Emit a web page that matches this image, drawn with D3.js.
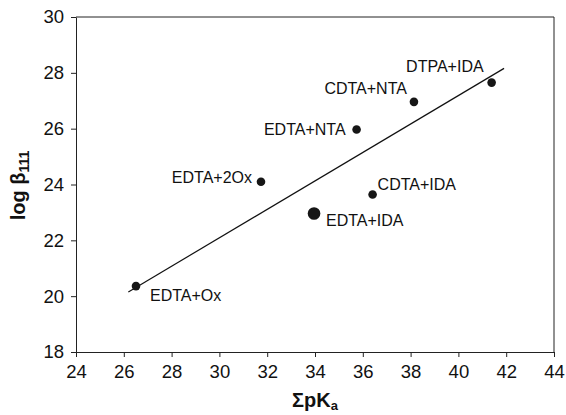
<!DOCTYPE html>
<html>
<head>
<meta charset="utf-8">
<script src="https://cdn.jsdelivr.net/npm/d3@7"></script>
<style>
  body { margin: 0; background: #fff; }
  svg { display: block; font-family: "Liberation Sans", Arial, sans-serif; }
  .axis path, .axis line { stroke: #222; }
  .axis text { font-size: 18.5px; fill: #111; }
</style>
</head>
<body>
<svg id="chart" width="566" height="415"></svg>
<script>
// Sum of pKa vs log beta111 for mixed-ligand complexes
const labels = ['EDTA+Ox', 'EDTA+2Ox', 'EDTA+NTA', 'CDTA+NTA', 'DTPA+IDA', 'CDTA+IDA', 'EDTA+IDA'];
const sumPKa = [26.51, 31.74, 35.74, 38.14, 41.39, 36.41, 33.96];
const logBeta = [20.36, 24.10, 25.97, 26.96, 27.65, 23.64, 22.96];
const highlighted = ['EDTA+IDA'];

// fitted line
const fitX = [26.19, 41.91];
const fitY = [20.15, 28.16];

const xTicks = [24, 26, 28, 30, 32, 34, 36, 38, 40, 42, 44];
const yTicks = [18, 20, 22, 24, 26, 28, 30];

const margin = { top: 17, right: 12, bottom: 63, left: 76 };
const width = 566, height = 415;

const svg = d3.select('#chart');

const x = d3.scaleLinear().domain([24, 44]).range([margin.left, width - margin.right]);
const y = d3.scaleLinear().domain([18, 30]).range([height - margin.bottom, margin.top]);

// frame (top + right, no ticks)
svg.append('path')
  .attr('d', `M${x(24)},${y(30)}H${x(44)}V${y(18)}`)
  .attr('fill', 'none')
  .attr('stroke', '#222');

svg.append('g')
  .attr('class', 'axis')
  .attr('transform', `translate(0,${y(18)})`)
  .call(d3.axisBottom(x).tickValues(xTicks).tickSize(5).tickPadding(8).tickSizeOuter(0));

svg.append('g')
  .attr('class', 'axis')
  .attr('transform', `translate(${x(24)},0)`)
  .call(d3.axisLeft(y).tickValues(yTicks).tickSize(5).tickPadding(7).tickSizeOuter(0));

svg.selectAll('.axis').attr('font-family', null).attr('font-size', null);

// regression line
svg.append('line')
  .attr('x1', x(fitX[0])).attr('y1', y(fitY[0]))
  .attr('x2', x(fitX[1])).attr('y2', y(fitY[1]))
  .attr('stroke', '#111')
  .attr('stroke-width', 1.2);

const points = labels.map((name, i) => ({ name, px: sumPKa[i], py: logBeta[i] }));

svg.append('g')
  .selectAll('circle')
  .data(points)
  .join('circle')
  .attr('cx', (d) => x(d.px))
  .attr('cy', (d) => y(d.py))
  .attr('r', (d) => highlighted.includes(d.name) ? 6.3 : 4.3)
  .attr('fill', '#161616');

// Label offsets relative to each point (anchor, dx, dy).
const LABEL_PLACEMENT = {
  'EDTA+Ox': ['start', 14, 15],
  'EDTA+2Ox': ['end', -9, 1],
  'EDTA+NTA': ['end', -11, 5],
  'CDTA+NTA': ['end', -7, -8],
  'DTPA+IDA': ['end', -8, -11],
  'CDTA+IDA': ['start', 5, -5],
  'EDTA+IDA': ['start', 12, 12],
};

svg.append('g')
  .selectAll('text')
  .data(points)
  .join('text')
  .attr('x', (d) => x(d.px) + LABEL_PLACEMENT[d.name][1])
  .attr('y', (d) => y(d.py) + LABEL_PLACEMENT[d.name][2])
  .attr('text-anchor', (d) => LABEL_PLACEMENT[d.name][0])
  .attr('font-size', '16px')
  .attr('fill', '#111')
  .text((d) => d.name);

// axis titles
const xTitle = svg.append('text')
  .attr('x', (x(24) + x(44)) / 2)
  .attr('y', 407)
  .attr('text-anchor', 'middle')
  .attr('font-weight', 'bold')
  .attr('font-size', '20px')
  .attr('fill', '#111');
xTitle.append('tspan').text('\u03A3pK');
xTitle.append('tspan').attr('font-size', '13px').attr('dy', 3).text('a');

const yTitle = svg.append('text')
  .attr('transform', `translate(25,${(y(18) + y(30)) / 2 + 1}) rotate(-90)`)
  .attr('text-anchor', 'middle')
  .attr('font-weight', 'bold')
  .attr('font-size', '20px')
  .attr('fill', '#111');
yTitle.append('tspan').text('log \u03B2');
yTitle.append('tspan').attr('font-size', '14px').attr('dy', 4).text('111');
</script>
</body>
</html>
